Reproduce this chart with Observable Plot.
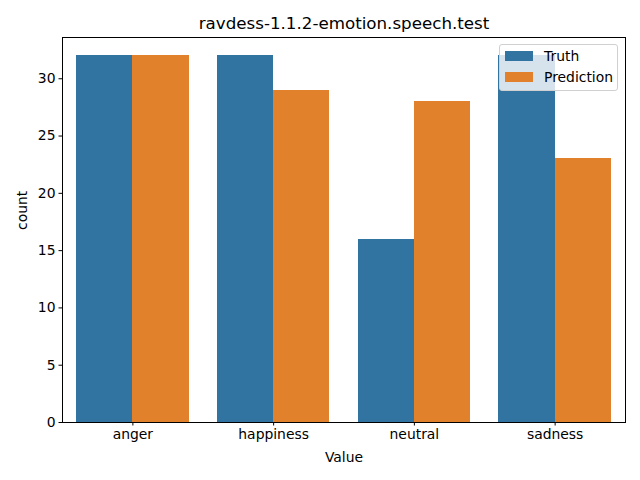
<!DOCTYPE html>
<html>
<head>
<meta charset="utf-8">
<script src="https://cdn.jsdelivr.net/npm/d3@7"></script>
<script src="https://cdn.jsdelivr.net/npm/@observablehq/plot@0.6"></script>
<style>
  html, body { margin: 0; padding: 0; background: #fff; }
  #wrap { position: relative; width: 640px; height: 480px; font-family: "DejaVu Sans", sans-serif; }
  .legend { position: absolute; left: 499px; top: 44px; width: 117px; height: 45px;
    border: 1px solid #d0d0d0; border-radius: 3px; background: rgba(255,255,255,0.8);
    font-size: 13.9px; color: #000; }
  .item { position: absolute; left: 5px; display: flex; align-items: center; }
  .sw { width: 28px; height: 10px; margin-right: 11px; }
</style>
</head>
<body>
<div id="wrap"></div>
<script>
const categories = ["anger", "happiness", "neutral", "sadness"];
const series = ["Truth", "Prediction"];
const truth = [32, 32, 16, 32];
const prediction = [32, 29, 28, 23];
const colors = ["#3274a1", "#e1812c"];
const yTicks = [0, 5, 10, 15, 20, 25, 30];

const rows = [];
categories.forEach((c, i) => {
  rows.push({cat: c, i, series: "Truth", value: truth[i], x1: i - 0.4, x2: i});
  rows.push({cat: c, i, series: "Prediction", value: prediction[i], x1: i, x2: i + 0.4});
});

const font = "DejaVu Sans, sans-serif";
const chart = Plot.plot({
  width: 640,
  height: 480,
  marginLeft: 62,
  marginRight: 15,
  marginTop: 37,
  marginBottom: 58,
  style: {fontFamily: font, fontSize: "13.9px", color: "#000", background: "#fff"},
  x: {domain: [-0.5, categories.length - 0.5], ticks: categories.map((_, i) => i),
      tickFormat: i => categories[i], label: null},
  y: {domain: [0, 33.6], ticks: yTicks, label: null},
  color: {domain: series, range: colors},
  marks: [
    Plot.rectY(rows, {x1: "x1", x2: "x2", y1: 0, y2: "value", fill: "series", shapeRendering: "crispEdges"}),
    Plot.frame({stroke: "#000", strokeWidth: 1}),
    Plot.axisX({ticks: categories.map((_, i) => i), tickFormat: i => categories[i],
      tickSize: 3.5, tickPadding: 3.5, fontSize: 13.9, label: null}),
    Plot.axisY({ticks: yTicks, tickSize: 3.5, tickPadding: 3.5, fontSize: 13.9, label: null}),
    Plot.text(["count"], {frameAnchor: "left", dx: -40, rotate: -90, fontSize: 13.9, fill: "#000"}),
    Plot.text(["Value"], {frameAnchor: "bottom", lineAnchor: "middle", dy: 35, fontSize: 13.9, fill: "#000"}),
    Plot.text(["ravdess-1.1.2-emotion.speech.test"], {frameAnchor: "top", lineAnchor: "middle", dy: -14, fontSize: 16.7, fill: "#000"})
  ]
});
const wrap = document.getElementById("wrap");
wrap.appendChild(chart);

const legend = document.createElement("div");
legend.className = "legend";
series.forEach((s, k) => {
  const it = document.createElement("div");
  it.className = "item";
  it.style.top = (k === 0 ? 3 : 24) + "px";
  it.innerHTML = `<span class="sw" style="background:${colors[k]}"></span><span>${s}</span>`;
  legend.appendChild(it);
});
wrap.appendChild(legend);
</script>
</body>
</html>
